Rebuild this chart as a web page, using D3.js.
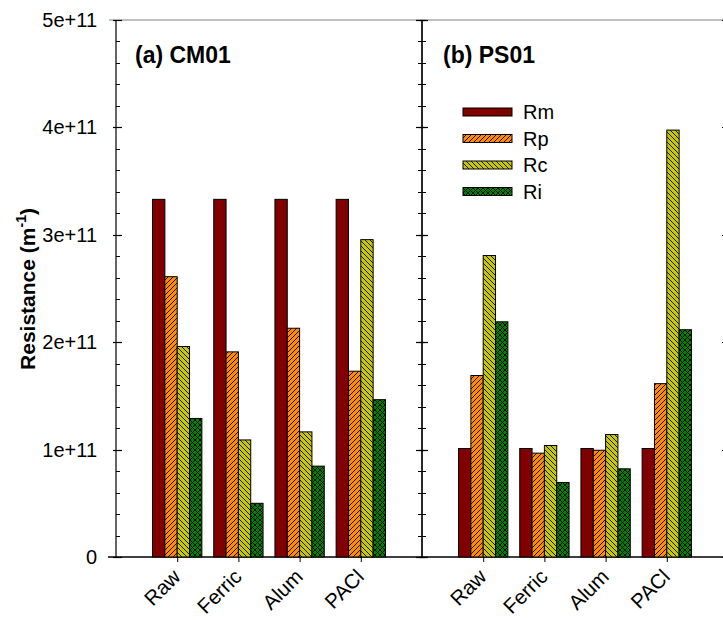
<!DOCTYPE html>
<html>
<head>
<meta charset="utf-8">
<script src="https://cdn.jsdelivr.net/npm/d3@7"></script>
<style>
  body { margin: 0; background: #fff; }
  svg { display: block; font-family: "Liberation Sans", Arial, sans-serif; }
</style>
</head>
<body>
<svg id="chart" width="723" height="620"></svg>
<script>
const categories = ['Raw', 'Ferric', 'Alum', 'PACl'];
const series = ['Rm', 'Rp', 'Rc', 'Ri'];
const cm01 = {
  Rm: [3.33e11, 3.33e11, 3.33e11, 3.33e11],
  Rp: [2.61e11, 1.91e11, 2.13e11, 1.73e11],
  Rc: [1.96e11, 1.09e11, 1.165e11, 2.955e11],
  Ri: [1.29e11, 0.50e11, 0.846e11, 1.465e11]
};
const ps01 = {
  Rm: [1.01e11, 1.01e11, 1.01e11, 1.01e11],
  Rp: [1.69e11, 0.967e11, 0.994e11, 1.614e11],
  Rc: [2.807e11, 1.038e11, 1.14e11, 3.975e11],
  Ri: [2.19e11, 0.694e11, 0.821e11, 2.116e11]
};
const panelTitles = ['(a) CM01', '(b) PS01'];
const yTicks = [0, 1e11, 2e11, 3e11, 4e11, 5e11];

const fills = {Rm: '#800000', Rp: 'url(#hatchRp)', Rc: 'url(#hatchRc)', Ri: 'url(#crossRi)'};

const svg = d3.select('#chart');
const y = d3.scaleLinear().domain([0, 5e11]).range([557, 20]);
const panelW = 306;
const left0 = 116;

// patterns
const defs = svg.append('defs');
function pattern(id, bg, d) {
  const p = defs.append('pattern').attr('id', id)
    .attr('patternUnits', 'userSpaceOnUse').attr('width', 5).attr('height', 5);
  p.append('rect').attr('width', 5).attr('height', 5).attr('fill', bg);
  p.append('path').attr('d', d).attr('stroke', '#000').attr('stroke-width', 0.9).attr('fill', 'none');
}
pattern('hatchRp', '#ff8c00', 'M-1,1 L1,-1 M0,5 L5,0 M4,6 L6,4');
pattern('hatchRc', '#c8c800', 'M-1,4 L1,6 M0,0 L5,5 M4,-1 L6,1');
pattern('crossRi', '#008000', 'M-1,1 L1,-1 M0,5 L5,0 M4,6 L6,4 M-1,4 L1,6 M0,0 L5,5 M4,-1 L6,1');

// top frame line
svg.append('line').attr('x1', 109).attr('x2', 723).attr('y1', 20).attr('y2', 20)
  .attr('stroke', '#808080').attr('stroke-width', 1.2);

// bottom axis line
svg.append('line').attr('x1', 108).attr('x2', 723).attr('y1', 557).attr('y2', 557)
  .attr('stroke', '#000').attr('stroke-width', 1.3);

const minor = d3.range(0, 5e11 + 1, 2e10);

[cm01, ps01].forEach((data, pi) => {
  const x0 = left0 + pi * panelW;
  const x = d3.scalePoint().domain(categories).range([x0, x0 + panelW]).padding(1);
  const step = x.step();
  const xs = d3.scaleBand().domain(series).range([-step * 0.403, step * 0.403]);
  const g = svg.append('g');

  // vertical axis lines with ticks pointing inward
  [x0, x0 + panelW].forEach((ax, side) => {
    const dir = side === 0 ? 1 : -1;
    g.append('line').attr('x1', ax).attr('x2', ax).attr('y1', 20).attr('y2', 557)
      .attr('stroke', '#000').attr('stroke-width', 1.2);
    g.selectAll(null).data(minor.filter(v => v % 1e11 !== 0)).enter().append('line')
      .attr('x1', ax).attr('x2', ax + dir * 4)
      .attr('y1', d => Math.round(y(d)) + 0.5).attr('y2', d => Math.round(y(d)) + 0.5)
      .attr('stroke', '#000');
    g.selectAll(null).data(yTicks).enter().append('line')
      .attr('x1', ax - dir * 3).attr('x2', ax + dir * 6)
      .attr('y1', d => Math.round(y(d)) + 0.5).attr('y2', d => Math.round(y(d)) + 0.5)
      .attr('stroke', '#000').attr('stroke-width', 1.2);
  });

  // bars
  series.forEach(s => {
    g.selectAll(null).data(data[s]).enter().append('rect')
      .attr('x', (d, i) => x(categories[i]) + xs(s))
      .attr('y', d => y(d))
      .attr('width', xs.bandwidth())
      .attr('height', d => y(0) - y(d))
      .attr('fill', fills[s])
      .attr('stroke', '#000').attr('stroke-width', 1);
  });

  // x ticks and labels
  const xAxis = d3.axisBottom(x).tickSize(-6).tickPadding(0);
  const xg = g.append('g').attr('transform', 'translate(0,557)').call(xAxis);
  xg.select('.domain').remove();
  xg.selectAll('.tick line').attr('stroke', '#000').attr('y2', 5).attr('y1', 0);
  xg.selectAll('.tick text')
    .attr('font-size', 20.5).attr('fill', '#000')
    .attr('text-anchor', 'end').attr('dy', null)
    .attr('transform', 'translate(4,21) rotate(-45)');

  g.append('text').attr('x', x0 + 19 + pi * 2).attr('y', 63)
    .attr('font-size', 23).attr('font-weight', 'bold').text(panelTitles[pi]);
});

// y labels
const yAxis = d3.axisLeft(y).tickValues(yTicks).tickSize(0).tickPadding(19)
  .tickFormat(v => v === 0 ? '0' : `${v / 1e11}e+11`);
const yg = svg.append('g').attr('transform', `translate(${left0},0)`).call(yAxis);
yg.select('.domain').remove();
yg.selectAll('.tick text').attr('font-size', 20).attr('fill', '#000').attr('font-family', null);

// y title
const yt = svg.append('text').attr('transform', 'translate(35,289) rotate(-90)')
  .attr('text-anchor', 'middle').attr('font-size', 21).attr('font-weight', 'bold');
yt.append('tspan').text('Resistance (m');
yt.append('tspan').attr('font-size', 14).attr('dy', -9).text('-1');
yt.append('tspan').attr('dy', 9).text(')');

// legend
const leg = svg.append('g').attr('transform', 'translate(463,108)');
series.forEach((s, i) => {
  leg.append('rect').attr('x', 0).attr('y', i * 26.5).attr('width', 49).attr('height', 8)
    .attr('fill', fills[s]).attr('stroke', '#000');
  leg.append('text').attr('x', 60).attr('y', i * 26.5 + 11).attr('font-size', 20).text(s);
});
</script>
</body>
</html>
